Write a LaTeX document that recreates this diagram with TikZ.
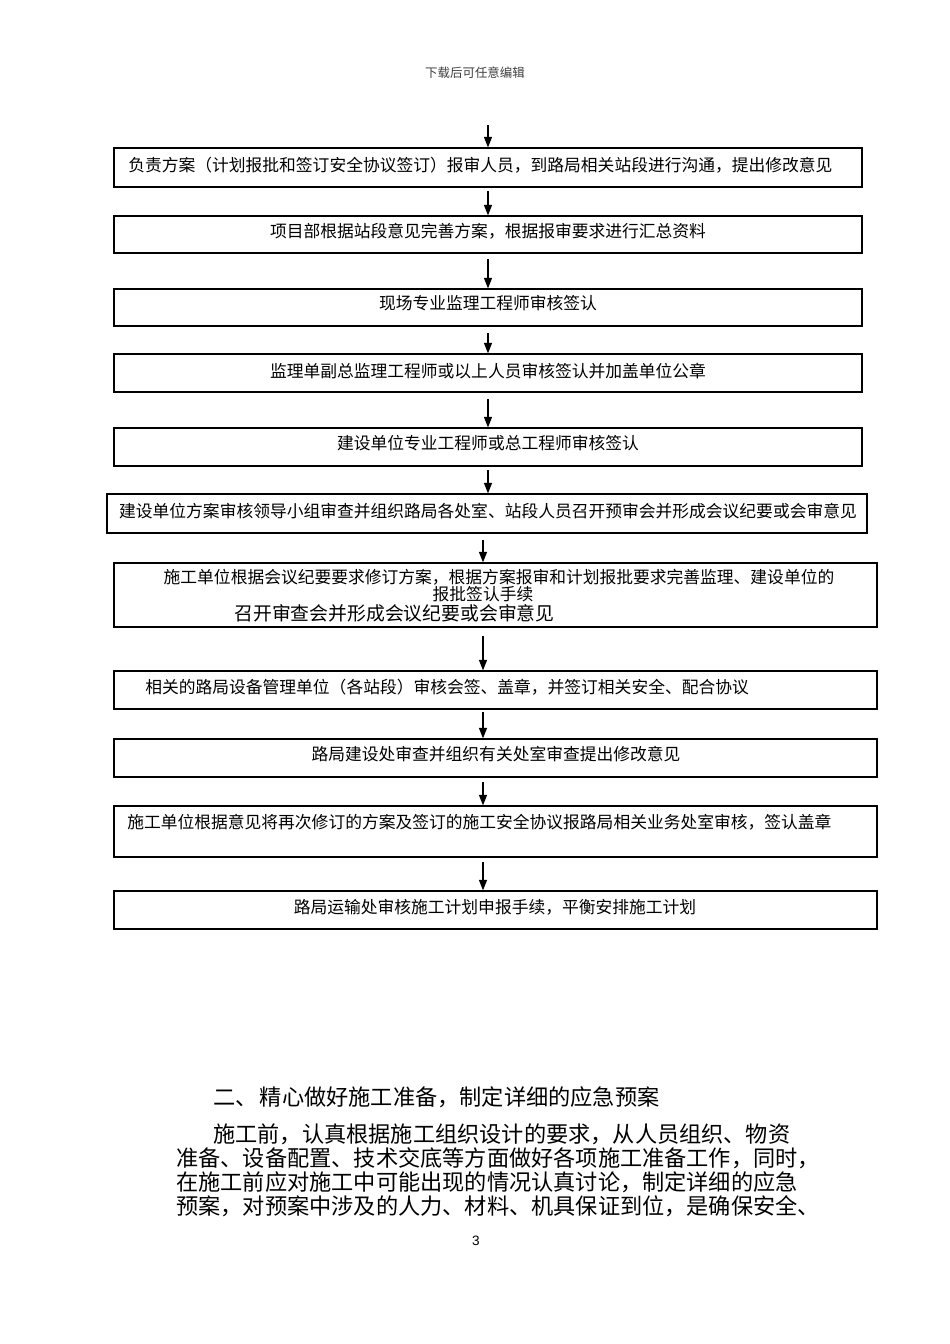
\documentclass[tikz,border=0pt]{standalone}
\usepackage{fontspec}
\setmainfont{Liberation Serif}
\newfontfamily\cjk{Noto Sans CJK SC}
\newfontfamily\arialfont{Liberation Sans}
\usetikzlibrary{arrows.meta,fit}
\begin{document}
\begin{tikzpicture}[x=0.6263pt,y=-0.6263pt,
  box/.style={draw=black, line width=0.8pt, inner sep=0pt},
  arr/.style={-{Triangle[width=5pt,length=6.5pt]}, line width=0.7pt},
  lbl/.style={font=\cjk\fontsize{10.5}{12}\selectfont, inner sep=0pt},
  lblw/.style={lbl, anchor=west},
  big/.style={font=\cjk\fontsize{11.8}{13}\selectfont, inner sep=0pt, anchor=west},
  body/.style={font=\cjk\fontsize{13.9}{16}\selectfont, inner sep=0pt, anchor=west}]
\fill[white] (0,0) rectangle (950,1344);
\useasboundingbox (0,0) rectangle (950,1344);

% header
\node[font=\cjk\fontsize{7.8}{9}\selectfont, text=black!75, inner sep=0pt] (hdr) at (475,73) {下载后可任意编辑};

% boxes
\node[box, fit={(114,148) (862,187)}] (b1) {};
\node[box, fit={(114,216) (862,253)}] (b2) {};
\node[box, fit={(114,289) (862,326)}] (b3) {};
\node[box, fit={(114,354) (862,392)}] (b4) {};
\node[box, fit={(114,428) (862,466)}] (b5) {};
\node[box, fit={(107,494) (867,533)}] (b6) {};
\node[box, fit={(114,563) (877,627)}] (b7) {};
\node[box, fit={(114,671) (877,709)}] (b8) {};
\node[box, fit={(114,739) (877,777)}] (b9) {};
\node[box, fit={(114,806) (877,857)}] (b10) {};
\node[box, fit={(114,891) (877,929)}] (b11) {};

% texts
\node[lblw] (t1) at (128,165) {负责方案（计划报批和签订安全协议签订）报审人员，到路局相关站段进行沟通，提出修改意见};
\node[lbl] (t2) at (488,231) {项目部根据站段意见完善方案，根据报审要求进行汇总资料};
\node[lbl] (t3) at (488,303) {现场专业监理工程师审核签认};
\node[lbl] (t4) at (488,371) {监理单副总监理工程师或以上人员审核签认并加盖单位公章};
\node[lbl] (t5) at (488,443) {建设单位专业工程师或总工程师审核签认};
\node[lbl] (t6) at (488,511) {建设单位方案审核领导小组审查并组织路局各处室、站段人员召开预审会并形成会议纪要或会审意见};
\node[lbl] (t7a) at (499,577) {施工单位根据会议纪要要求修订方案，根据方案报审和计划报批要求完善监理、建设单位的};
\node[lbl] (t7b) at (483,594.5) {报批签认手续};
\node[big] (t7c) at (234,613.5) {召开审查会并形成会议纪要或会审意见};
\node[lblw] (t8) at (145,687) {相关的路局设备管理单位（各站段）审核会签、盖章，并签订相关安全、配合协议};
\node[lbl] (t9) at (496,754) {路局建设处审查并组织有关处室审查提出修改意见};
\node[lblw] (t10) at (127,822) {施工单位根据意见将再次修订的方案及签订的施工安全协议报路局相关业务处室审核，签认盖章};
\node[lbl] (t11) at (495,907) {路局运输处审核施工计划申报手续，平衡安排施工计划};

% arrows
\coordinate (s1) at (488,125);
\coordinate (s2) at (488,191);
\coordinate (s3) at (488,259);
\coordinate (s4) at (488,333);
\coordinate (s5) at (488,399);
\coordinate (s6) at (488,470);
\coordinate (s7) at (483,540);
\coordinate (s8) at (483,636);
\coordinate (s9) at (483,712);
\coordinate (s10) at (483,782);
\coordinate (s11) at (483,862);
\draw[arr] (s1) -- (s1 |- b1.north);
\draw[arr] (s2) -- (s2 |- b2.north);
\draw[arr] (s3) -- (s3 |- b3.north);
\draw[arr] (s4) -- (s4 |- b4.north);
\draw[arr] (s5) -- (s5 |- b5.north);
\draw[arr] (s6) -- (s6 |- b6.north);
\draw[arr] (s7) -- (s7 |- b7.north);
\draw[arr] (s8) -- (s8 |- b8.north);
\draw[arr] (s9) -- (s9 |- b9.north);
\draw[arr] (s10) -- (s10 |- b10.north);
\draw[arr] (s11) -- (s11 |- b11.north);

% body text
\node[body] (h2) at (213,1097) {二、\hspace{0.1em}精心做好施工准备，制定详细的应急预案};
\node[body] (p1) at (213,1134) {施工前，认真根据施工组织设计的要求，从人员组织、物资};
\node[body] (p2) at (176,1158) {准备、设备配置、技术交底等方面做好各项施工准备工作，同时，};
\node[body] (p3) at (176,1182) {在施工前应对施工中可能出现的情况认真讨论，制定详细的应急};
\node[body] (p4) at (176,1206) {预案，对预案中涉及的人力、材料、机具保证到位，是确保安全、};

\node[font=\arialfont\fontsize{8.5}{10}\selectfont, inner sep=0pt] (pg) at (476,1241) {3};
\end{tikzpicture}
\end{document}
